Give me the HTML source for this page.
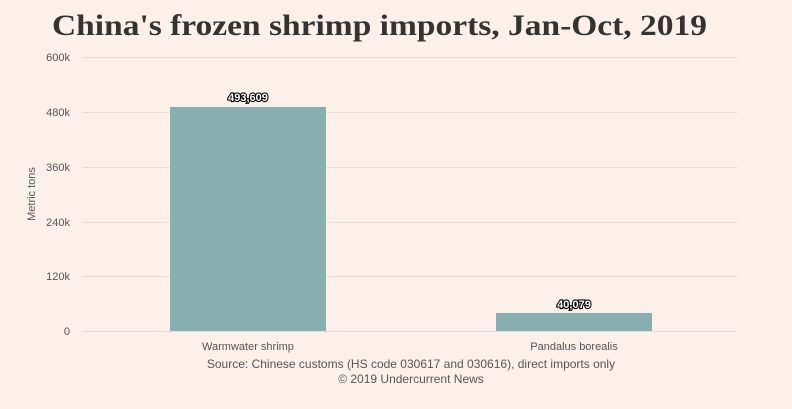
<!DOCTYPE html>
<html><head><style>
body{margin:0;width:792px;height:404px;background:#fcf1ea;overflow:hidden;font-family:"Liberation Sans",sans-serif;}
</style></head><body>
<svg width="792" height="404" xmlns="http://www.w3.org/2000/svg">
<rect width="792" height="404" fill="#fcf1ea"/>
<text x="52" y="35" textLength="655" lengthAdjust="spacingAndGlyphs" font-family="Liberation Serif,serif" font-weight="bold" font-size="30" fill="#333">China's frozen shrimp imports, Jan-Oct, 2019</text>
<g stroke="#eddcd2" stroke-width="1">
<line x1="83" x2="737" y1="57.5" y2="57.5"/>
<line x1="83" x2="737" y1="112.5" y2="112.5"/>
<line x1="83" x2="737" y1="167.5" y2="167.5"/>
<line x1="83" x2="737" y1="222.5" y2="222.5"/>
<line x1="83" x2="737" y1="276.5" y2="276.5"/>
</g>
<g font-size="11" fill="#555" text-anchor="end">
<text x="70" y="61">600k</text>
<text x="70" y="116">480k</text>
<text x="70" y="171">360k</text>
<text x="70" y="226">240k</text>
<text x="70" y="280">120k</text>
<text x="70" y="335">0</text>
</g>
<text transform="translate(35,194) rotate(-90)" text-anchor="middle" font-size="11" fill="#555">Metric tons</text>
<rect x="170" y="107" width="156" height="224" fill="#88afaf"/>
<rect x="496" y="313" width="156" height="18" fill="#88afaf"/>
<line x1="83" x2="737" y1="331.5" y2="331.5" stroke="#ddd"/>
<g font-size="11" font-weight="bold" text-anchor="middle" fill="#fff" stroke="#000" stroke-width="2.2" paint-order="stroke">
<text x="248" y="101">493,609</text>
<text x="574" y="308">40,079</text>
</g>
<g font-size="11" fill="#555" text-anchor="middle">
<text x="248" y="350">Warmwater shrimp</text>
<text x="574" y="350">Pandalus borealis</text>
</g>
<g font-size="12" fill="#555" text-anchor="middle">
<text x="411" y="368">Source: Chinese customs (HS code 030617 and 030616), direct imports only</text>
<text x="411" y="383">© 2019 Undercurrent News</text>
</g>
</svg>
</body></html>
